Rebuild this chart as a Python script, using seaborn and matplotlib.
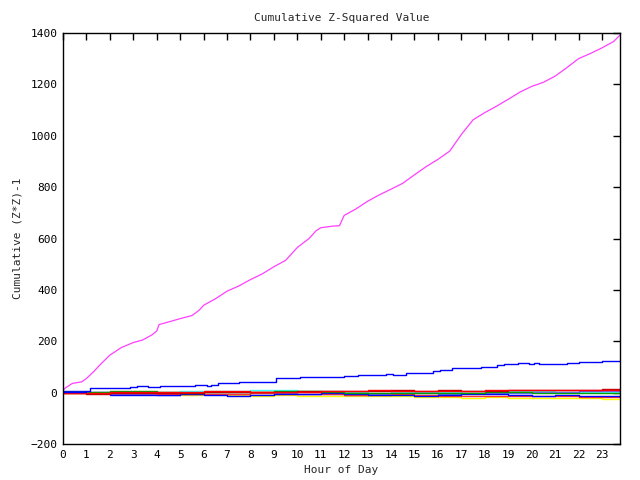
import matplotlib
matplotlib.use("Agg")
import matplotlib.pyplot as plt
import seaborn as sns

# --- data ---
mag_hours = [0, 0.1, 0.4, 0.8, 1.0, 1.3, 1.6, 2.0, 2.5, 3.0, 3.4, 3.8, 4.0, 4.1, 4.5,
             5.0, 5.5, 5.8, 6.0, 6.5, 7.0, 7.5, 8.0, 8.5, 9.0, 9.5, 10.0, 10.5, 10.8,
             11.0, 11.5, 11.8, 12.0, 12.5, 13.0, 13.5, 14.0, 14.5, 15.0, 15.5, 16.0,
             16.5, 17.0, 17.5, 18.0, 18.5, 19.0, 19.5, 20.0, 20.5, 21.0, 21.5, 22.0,
             22.5, 23.0, 23.5, 23.77]
mag_vals = [10, 18, 36, 42, 55, 81, 110, 146, 176, 195, 205, 225, 240, 265, 275,
            288, 300, 320, 340, 365, 395, 415, 440, 462, 490, 515, 565, 600, 630,
            642, 648, 650, 690, 715, 745, 770, 792, 815, 848, 880, 908, 940, 1005,
            1062, 1090, 1115, 1142, 1170, 1192, 1208, 1232, 1265, 1300, 1320, 1342,
            1367, 1392]

blue_hours = [0, 1.0, 1.15, 2.86, 3.14, 3.64, 4.14, 5.63, 6.13, 6.3, 6.6, 7.5, 9.1,
              10.1, 12.0, 12.6, 13.8, 14.1, 14.65, 15.8, 16.1, 16.6, 17.6, 17.85,
              18.5, 18.8, 19.4, 19.9, 20.1, 20.3, 21.5, 22.0, 22.5, 23.0, 23.77]
blue_vals = [4, 8, 17, 21, 25, 21, 25, 29, 25, 30, 36, 42, 55, 59, 66, 70, 74, 70,
             78, 85, 90, 94, 97, 101, 106, 110, 114, 110, 114, 110, 114, 118, 121,
             125, 125]

# small cumulative series hugging zero (hourly steps)
step_hours = [0, 1, 2, 3, 4, 5, 6, 7, 8, 9, 10, 11, 12, 13, 14, 15, 16, 17, 18, 19,
              20, 21, 22, 23, 23.77]
red_vals = [0, 0, 2, 2, 3, 3, 5, 5, 3, 2, 3, 5, 8, 10, 8, 6, 8, 7, 9, 10, 11, 12, 11, 12, 12]
green_vals = [3, 2, 5, 6, 4, 0, 2, 3, 4, 6, 5, 4, 0, -2, 0, -3, -1, 0, 2, 1, -2, 0, -1, -2, -2]
navy_vals = [5, 2, -8, -9, -10, -6, -8, -12, -10, -6, -5, -3, -5, -8, -10, -12, -8, -6,
             -6, -10, -12, -10, -13, -15, -15]
cyan_vals = [1, 0, -2, 2, 4, 5, 6, 8, 10, 10, 8, 6, 4, 5, 3, 2, 4, 6, 8, 6, 5, 3, 4, 2, 2]
yellow_vals = [0, -2, -1, -3, -5, -8, -6, -10, -12, -11, -13, -12, -15, -14, -12, -16,
               -18, -20, -18, -22, -20, -19, -21, -23, -23]
darkred_vals = [0, -4, -3, -2, -2, 0, 2, 3, 4, 2, 5, 8, 6, 7, 9, 8, 10, 8, 7, 9, 11, 10,
                12, 13, 13]
slate_vals = [2, 0, -4, -6, -8, -7, -5, -6, -3, -1, -4, -6, -8, -5, -3, -2, -4, -1, 0,
              -2, 1, 3, 5, 8, 8]
orange_vals = [0, -1, -3, -2, -4, -5, -6, -4, -3, -5, -6, -7, -8, -9, -7, -10, -12, -13,
               -14, -15, -13, -14, -16, -17, -17]

x_ticks = list(range(24))
y_ticks = [-200, 0, 200, 400, 600, 800, 1000, 1200, 1400]

sns.set_style("white")
plt.rcParams['font.family'] = ['DejaVu Sans Mono']

fig = plt.figure(figsize=(6.4, 4.8), dpi=100)
ax = fig.add_axes([63 / 640, 36 / 480, 557 / 640, 411 / 480])

small = [
    (yellow_vals, "#ffff00"),
    (cyan_vals, "#40ffff"),
    (slate_vals, "#6a6aff"),
    (orange_vals, "#ff3030"),
    (navy_vals, "#0000ff"),
    (green_vals, "#00a000"),
    (darkred_vals, "#c00000"),
    (red_vals, "#ff0000"),
]
for vals, col in small:
    sns.lineplot(x=step_hours, y=vals, color=col, lw=1.0, ax=ax,
                 drawstyle="steps-post", estimator=None, sort=False)

sns.lineplot(x=blue_hours, y=blue_vals, color="#0000ff", lw=1.0, ax=ax,
             drawstyle="steps-post", estimator=None, sort=False)
sns.lineplot(x=mag_hours, y=mag_vals, color="#ff40ff", lw=0.9, ax=ax,
             estimator=None, sort=False)

ax.set_xlim(0, 23.77)
ax.set_ylim(-200, 1400)
ax.set_xticks(x_ticks)
ax.set_yticks(y_ticks)
ax.tick_params(direction="in", length=5, width=1, top=True, right=True,
               labelsize=8, colors="black", pad=4)
for sp in ax.spines.values():
    sp.set_color("black")
    sp.set_linewidth(1)

ax.set_title("Cumulative Z-Squared Value", fontsize=8, pad=9)
ax.set_xlabel("Hour of Day", fontsize=8, labelpad=4)
ax.set_ylabel("Cumulative (Z*Z)-1", fontsize=8, labelpad=6)

fig.savefig("out.png", dpi=100)
